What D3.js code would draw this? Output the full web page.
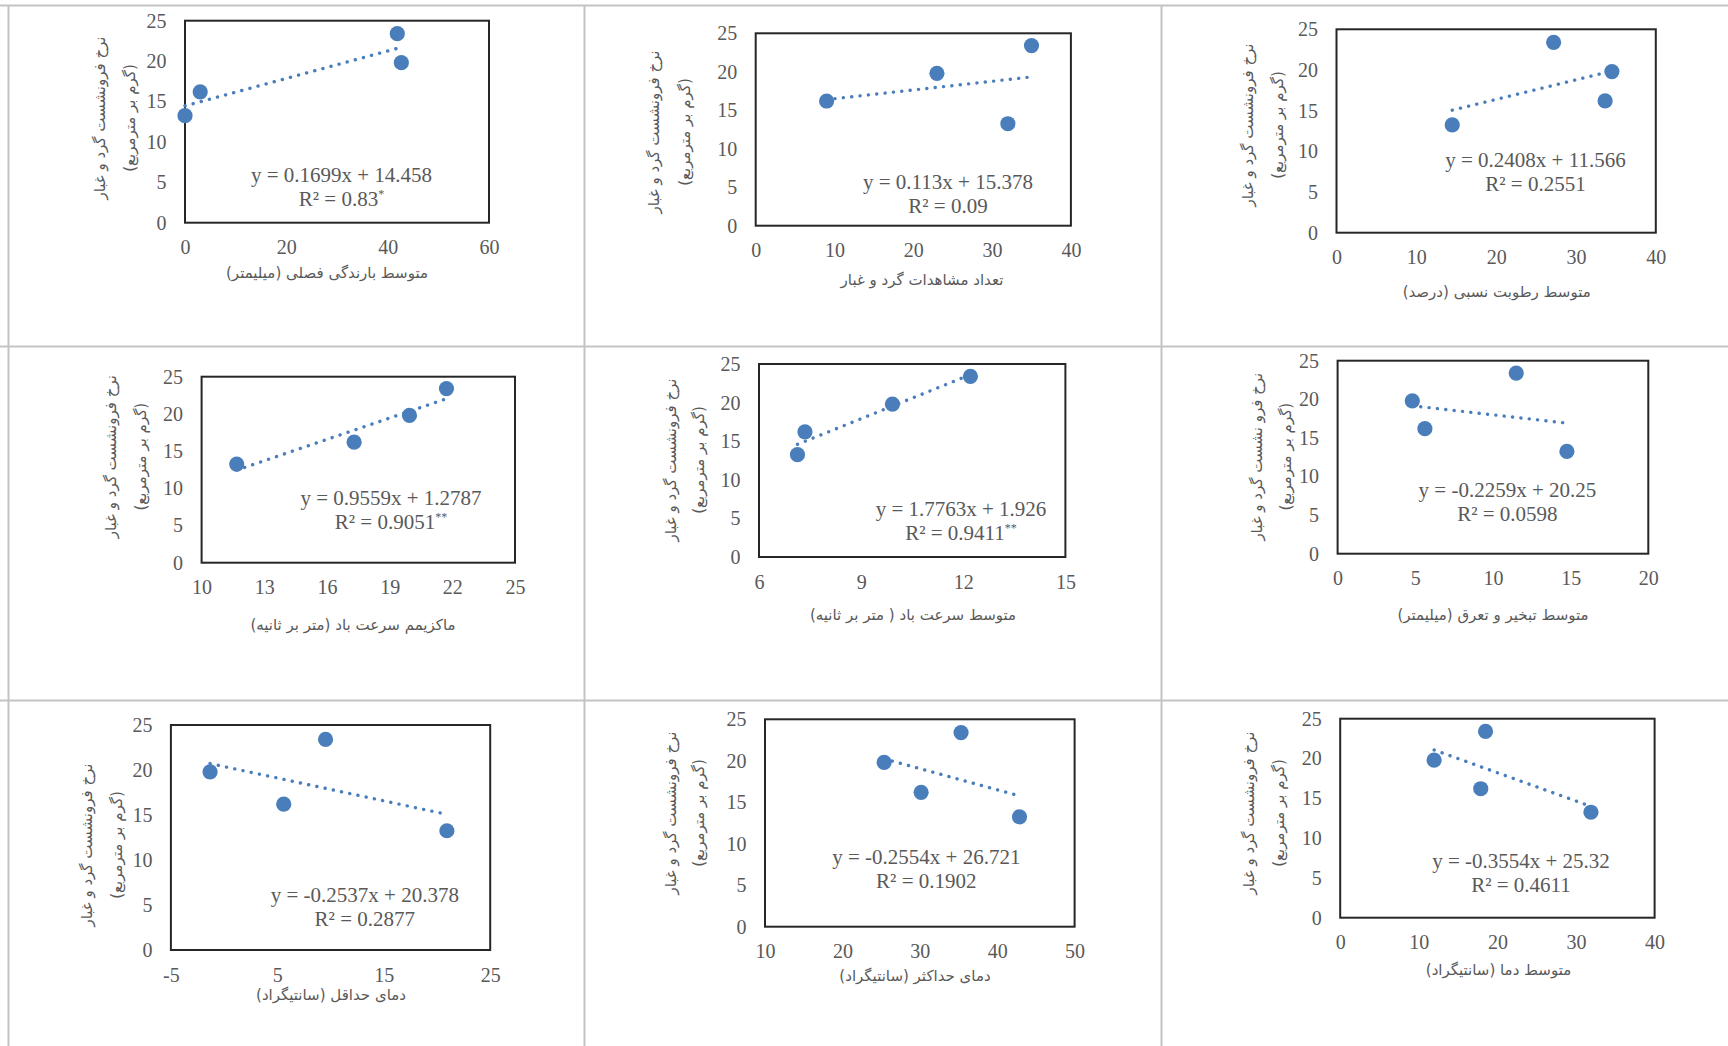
<!DOCTYPE html>
<html><head><meta charset="utf-8">
<script src="https://cdn.jsdelivr.net/npm/d3@7"></script>
<style>
html,body{margin:0;padding:0;background:#fff;}
svg{display:block;}
.tick text{font-family:"Liberation Serif","Times New Roman",serif;font-size:20px;fill:#595959;}
.fa{font-family:"DejaVu Sans",sans-serif;fill:#595959;}
.eq{font-family:"Liberation Serif","Times New Roman",serif;font-size:21px;fill:#595959;}
</style></head>
<body>
<svg id="c" width="1728" height="1046"></svg>
<script>
// ---- data ----
const depositionRate = [13.25, 16.2, 19.8, 23.4]; // y values (same four observations in every panel)
const rainfall    = [0, 3, 42.7, 41.9];
const dustDays    = [32, 9, 23, 35];
const humidity    = [14.5, 33.65, 34.5, 27.2];
const maxWind     = [11.68, 17.3, 19.95, 21.72];
const meanWind    = [7.13, 7.35, 9.92, 12.21];
const evaporation = [14.76, 5.62, 4.81, 11.5];
const minTemp     = [20.93, 5.6, -1.32, 9.53];
const maxTemp     = [42.88, 30.17, 25.39, 35.33];
const meanTemp    = [31.9, 17.88, 11.95, 18.49];

const slopes      = [0.1699, 0.113, 0.2408, 0.9559, 1.7763, -0.2259, -0.2537, -0.2554, -0.3554];
const intercepts  = [14.458, 15.378, 11.566, 1.2787, 1.926, 20.25, 20.378, 26.721, 25.32];
const r2Values    = ["0.83", "0.09", "0.2551", "0.9051", "0.9411", "0.0598", "0.2877", "0.1902", "0.4611"];
const significance= ["*", "", "", "**", "**", "", "", "", ""];

const xDomains = [[0,60],[0,40],[0,40],[10,25],[6,15],[0,20],[-5,25],[10,50],[0,40]];
const xTickValues = [
  [0,20,40,60],[0,10,20,30,40],[0,10,20,30,40],[10,13,16,19,22,25],
  [6,9,12,15],[0,5,10,15,20],[-5,5,15,25],[10,20,30,40,50],[0,10,20,30,40]
];
const yDomain = [0, 25];
const yTickValues = [0,5,10,15,20,25];

const xTitles = [
  "متوسط بارندگی فصلی (میلیمتر)",
  "تعداد مشاهدات گرد و غبار",
  "متوسط رطوبت نسبی (درصد)",
  "ماکزیمم سرعت باد (متر بر ثانیه)",
  "متوسط سرعت باد ( متر بر ثانیه)",
  "متوسط تبخیر و تعرق (میلیمتر)",
  "دمای حداقل (سانتیگراد)",
  "دمای حداکثر (سانتیگراد)",
  "متوسط دما (سانتیگراد)"
];
const yTitleLine1 = [
  "نرخ فرونشست گرد و غبار","نرخ فرونشست گرد و غبار","نرخ فرونشست گرد و غبار",
  "نرخ فرونشست گرد و غبار","نرخ فرونشست گرد و غبار","نرخ فرو نشست گرد و غبار",
  "نرخ فرونشست گرد و غبار","نرخ فرونشست گرد و غبار","نرخ فرونشست گرد و غبار"
];
const yTitleLine2 = "(گرم بر مترمربع)";

const xSeries = [rainfall, dustDays, humidity, maxWind, meanWind, evaporation, minTemp, maxTemp, meanTemp];

// ---- layout (positions only) ----
const layout = [
 {box:[185,20.7,489,222.7],      eq:[341.5,181.7], yt:[100,129.5,118],     xt:[327,273]},
 {box:[755.7,33.3,1070.9,225.7], eq:[948,189.3],   yt:[654,685.4,132],     xt:[922,280]},
 {box:[1336.5,29.3,1655.8,232.7],eq:[1535.5,167.3],yt:[1248,1277.6,125],   xt:[1496.7,291.7]},
 {box:[201.6,376.7,515,562.7],   eq:[391,505],     yt:[111,140.6,456.7],   xt:[353,625]},
 {box:[759,364,1065.4,557],      eq:[961,515.7],   yt:[670.6,699,460],     xt:[913,615]},
 {box:[1337.6,360.7,1648.3,553.7],eq:[1507.4,496.7],yt:[1257,1285.8,456.7],xt:[1493,615]},
 {box:[170.9,725,490.2,950],     eq:[364.8,902.3], yt:[87,116.5,845],      xt:[331,995]},
 {box:[765,719.3,1074.6,926.7],  eq:[926.3,864],   yt:[670.6,699,813],     xt:[915,976]},
 {box:[1340.2,718.7,1654.6,917.7],eq:[1521,868.3], yt:[1248.8,1279,813],   xt:[1498.5,970]}
];

const svg = d3.select("#c");
const blue = "#4a7ebb";

// table grid
const gridColor = "#c3c3c3";
[8.5, 584.5, 1161.5].forEach(x => svg.append("line").attr("x1",x).attr("x2",x).attr("y1",5).attr("y2",1046)
  .attr("stroke",gridColor).attr("stroke-width",2));
[5.5, 346.5, 700.5].forEach(y => svg.append("line").attr("x1",0).attr("x2",1728).attr("y1",y).attr("y2",y)
  .attr("stroke",gridColor).attr("stroke-width",2));

xSeries.forEach((xs, i) => {
  const L = layout[i];
  const [x0,y0,x1,y1] = L.box;
  const x = d3.scaleLinear().domain(xDomains[i]).range([x0,x1]);
  const y = d3.scaleLinear().domain(yDomain).range([y1,y0]);
  const g = svg.append("g");

  // axes labels
  const ax = g.append("g").attr("transform",`translate(0,${y1})`)
    .call(d3.axisBottom(x).tickValues(xTickValues[i]).tickSize(0).tickPadding(17.5).tickFormat(d => String(d)));
  ax.select(".domain").remove();
  const ay = g.append("g").attr("transform",`translate(${x0},0)`)
    .call(d3.axisLeft(y).tickValues(yTickValues).tickSize(0).tickPadding(18.5).tickFormat(d => String(d)));
  ay.select(".domain").remove();

  // plot box
  g.append("rect").attr("x",x0).attr("y",y0).attr("width",x1-x0).attr("height",y1-y0)
    .attr("fill","none").attr("stroke","#262626").attr("stroke-width",2);

  // trendline (from displayed equation over data x range)
  const ext = d3.extent(xs);
  const fit = v => slopes[i]*v + intercepts[i];
  g.append("path")
    .attr("d", d3.line()([[x(ext[0]), y(fit(ext[0]))],[x(ext[1]), y(fit(ext[1]))]]))
    .attr("stroke",blue).attr("stroke-width",3.4).attr("stroke-linecap","round")
    .attr("stroke-dasharray","0.1 8.3").attr("fill","none");

  // points
  g.selectAll("circle.pt").data(xs.map((v,k)=>[v, depositionRate[k]])).join("circle")
    .attr("class","pt").attr("cx",d=>x(d[0])).attr("cy",d=>y(d[1])).attr("r",7.6).attr("fill",blue);

  // equation
  const sgn = intercepts[i] >= 0 ? " + " : " - ";
  g.append("text").attr("class","eq").attr("x",L.eq[0]).attr("y",L.eq[1]).attr("text-anchor","middle")
    .text(`y = ${slopes[i]}x${sgn}${Math.abs(intercepts[i])}`);
  const r2 = g.append("text").attr("class","eq").attr("x",L.eq[0]).attr("y",L.eq[1]+23.8).attr("text-anchor","middle");
  r2.append("tspan").text(`R² = ${r2Values[i]}`);
  if (significance[i]) r2.append("tspan").attr("dy",-8).attr("font-size",12).text(significance[i]);

  // x title
  g.append("text").attr("class","fa").attr("direction","rtl").attr("font-size",15)
    .attr("x",L.xt[0]).attr("y",L.xt[1]).attr("text-anchor","middle").attr("dominant-baseline","central")
    .text(xTitles[i]);
  // y titles
  [[L.yt[0], yTitleLine1[i]],[L.yt[1], yTitleLine2]].forEach(([cx,t]) => {
    g.append("text").attr("class","fa").attr("direction","rtl").attr("font-size",15)
      .attr("text-anchor","middle").attr("dominant-baseline","central")
      .attr("transform",`translate(${cx},${L.yt[2]}) rotate(-90)`).text(t);
  });
});
</script>
</body></html>
